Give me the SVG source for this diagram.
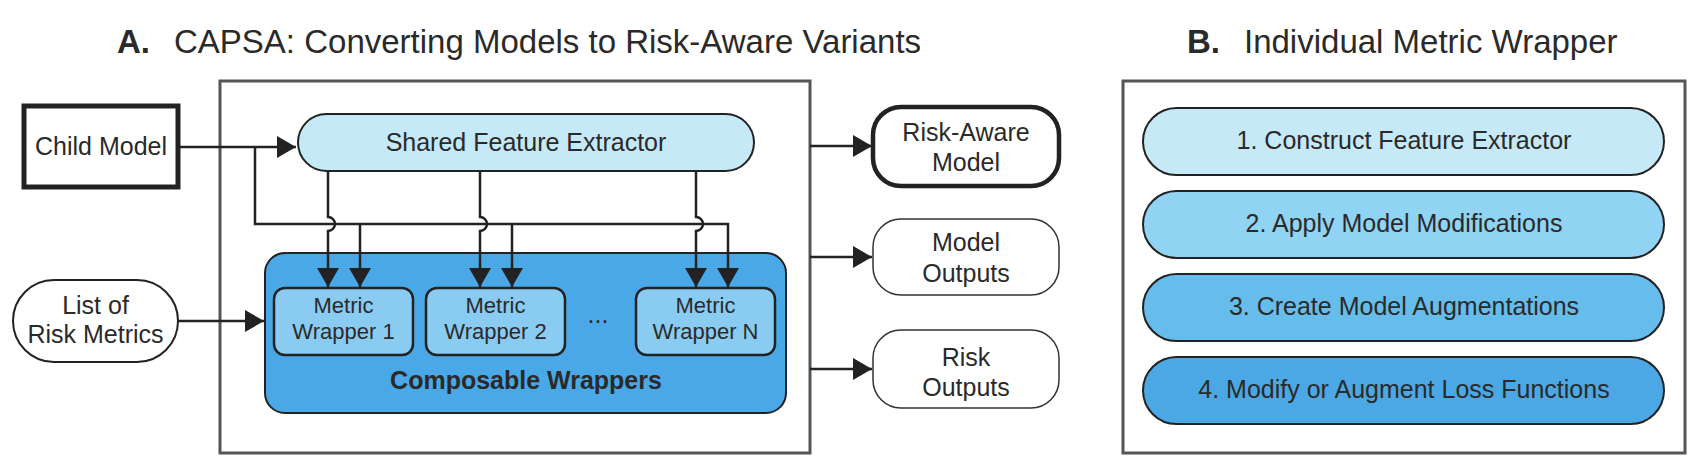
<svg xmlns="http://www.w3.org/2000/svg" width="1698" height="466" viewBox="0 0 1698 466">
<defs>
<style>
text{font-family:"Liberation Sans",Arial,Helvetica,sans-serif;fill:#2a2a2a;}
.t{font-size:25px;text-anchor:middle;}
.mw{font-size:22px;text-anchor:middle;}
.title{font-size:33px;}
.b{font-weight:bold;}
.frame{fill:#fff;stroke:#555;stroke-width:3;}
.ln{fill:none;stroke:#222;stroke-width:2.5;}
.node{stroke:#222;stroke-width:2;}
</style>
<marker id="ah" markerUnits="userSpaceOnUse" markerWidth="20" markerHeight="22" refX="19" refY="11" orient="auto">
<path d="M0,0 L19,11 L0,22 z" fill="#222"/>
</marker>
</defs>
<rect width="1698" height="466" fill="#fff"/>

<g id="title-a"><text class="title b" x="117" y="53">A.</text><text class="title" x="174" y="53">CAPSA: Converting Models to Risk-Aware Variants</text></g>
<g id="title-b"><text class="title b" x="1187" y="53">B.</text><text class="title" x="1244" y="53">Individual Metric Wrapper</text></g>

<g id="frame-a"><rect class="frame" x="220" y="81" width="590" height="372"/></g>
<g id="frame-b"><rect class="frame" x="1123" y="81" width="562" height="372"/></g>

<g id="child-model"><rect x="24" y="106" width="154" height="81" fill="#fff" stroke="#222" stroke-width="5"/><text class="t" x="101" y="155">Child Model</text></g>
<g id="risk-metrics"><rect x="13" y="280" width="165" height="82" rx="41" fill="#fff" stroke="#222" stroke-width="2"/><text class="t" x="95.5" y="314">List of</text><text class="t" x="95.5" y="343">Risk Metrics</text></g>

<g id="shared-feature-extractor"><rect class="node" x="298" y="114" width="456" height="57" rx="28.5" fill="#c6e9f8"/><text class="t" x="526" y="151">Shared Feature Extractor</text></g>

<g id="composable-wrappers"><rect class="node" x="265" y="253" width="521" height="160" rx="20" fill="#4ba8e6"/><text class="t b" x="526" y="389">Composable Wrappers</text>
<text class="t" x="598" y="323">...</text></g>
<g id="metric-wrapper-1"><rect x="274" y="288" width="139" height="67" rx="11" fill="#8acbf2" stroke="#222" stroke-width="2.5"/><text class="mw" x="343.5" y="313">Metric</text><text class="mw" x="343.5" y="339">Wrapper 1</text></g>
<g id="metric-wrapper-2"><rect x="426" y="288" width="139" height="67" rx="11" fill="#8acbf2" stroke="#222" stroke-width="2.5"/><text class="mw" x="495.5" y="313">Metric</text><text class="mw" x="495.5" y="339">Wrapper 2</text></g>
<g id="metric-wrapper-n"><rect x="636" y="288" width="139" height="67" rx="11" fill="#8acbf2" stroke="#222" stroke-width="2.5"/><text class="mw" x="705.5" y="313">Metric</text><text class="mw" x="705.5" y="339">Wrapper N</text></g>

<g id="risk-aware-model"><rect x="873" y="107" width="186" height="79" rx="28" fill="#fff" stroke="#222" stroke-width="4.5"/><text class="t" x="966" y="141">Risk-Aware</text><text class="t" x="966" y="171">Model</text></g>
<g id="model-outputs"><rect x="873" y="219" width="186" height="76" rx="28" fill="#fff" stroke="#333" stroke-width="1.5"/><text class="t" x="966" y="251">Model</text><text class="t" x="966" y="282">Outputs</text></g>
<g id="risk-outputs"><rect x="873" y="330" width="186" height="78" rx="28" fill="#fff" stroke="#333" stroke-width="1.5"/><text class="t" x="966" y="366">Risk</text><text class="t" x="966" y="396">Outputs</text></g>

<g id="step-1"><rect class="node" x="1143" y="108" width="521" height="67" rx="33.5" fill="#c6e9f8"/><text class="t" x="1404" y="149">1. Construct Feature Extractor</text></g>
<g id="step-2"><rect class="node" x="1143" y="191" width="521" height="67" rx="33.5" fill="#90d3f2"/><text class="t" x="1404" y="232">2. Apply Model Modifications</text></g>
<g id="step-3"><rect class="node" x="1143" y="274" width="521" height="67" rx="33.5" fill="#66bdeb"/><text class="t" x="1404" y="315">3. Create Model Augmentations</text></g>
<g id="step-4"><rect class="node" x="1143" y="357" width="521" height="67" rx="33.5" fill="#4ba8e5"/><text class="t" x="1404" y="398">4. Modify or Augment Loss Functions</text></g>

<g id="connectors">
<path class="ln" d="M178,147 H296" marker-end="url(#ah)"/>
<path class="ln" d="M255,147 V224 H728 V287" marker-end="url(#ah)"/>
<path class="ln" d="M360,224 V287" marker-end="url(#ah)"/>
<path class="ln" d="M512,224 V287" marker-end="url(#ah)"/>
<path class="ln" d="M328,171 V217 A7,7 0 0 1 328,231 V287" marker-end="url(#ah)"/>
<path class="ln" d="M480,171 V217 A7,7 0 0 1 480,231 V287" marker-end="url(#ah)"/>
<path class="ln" d="M696,171 V217 A7,7 0 0 1 696,231 V287" marker-end="url(#ah)"/>
<path class="ln" d="M178,321 H264" marker-end="url(#ah)"/>
<path class="ln" d="M810,146 H872" marker-end="url(#ah)"/>
<path class="ln" d="M810,257 H872" marker-end="url(#ah)"/>
<path class="ln" d="M810,369 H872" marker-end="url(#ah)"/>
</g>
</svg>
